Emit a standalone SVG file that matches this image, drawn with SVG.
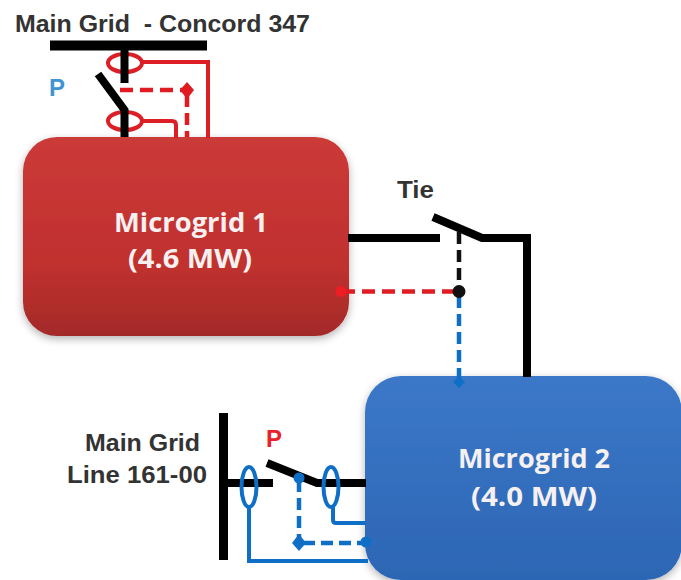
<svg xmlns="http://www.w3.org/2000/svg" width="681" height="580" viewBox="0 0 681 580">
<defs>
<linearGradient id="r" x1="0" y1="0" x2="0" y2="1"><stop offset="0" stop-color="#cb3a38"/><stop offset="0.65" stop-color="#c0302e"/><stop offset="1" stop-color="#a32b29"/></linearGradient>
<linearGradient id="b" x1="0" y1="0" x2="0" y2="1"><stop offset="0" stop-color="#3c78c8"/><stop offset="1" stop-color="#2c66b4"/></linearGradient>
<filter id="s" x="-10%" y="-10%" width="120%" height="125%"><feGaussianBlur in="SourceAlpha" stdDeviation="4"/><feOffset dy="3"/><feComponentTransfer><feFuncA type="linear" slope="0.3"/></feComponentTransfer><feMerge><feMergeNode/><feMergeNode in="SourceGraphic"/></feMerge></filter>
</defs>
<style>
.k{fill:none;stroke:#000;stroke-width:8}
.kd{fill:none;stroke:#111;stroke-width:4.500;stroke-dasharray:12 6}
.r{fill:none;stroke:#dc1f26;stroke-width:4}
.rd{fill:none;stroke:#e01b22;stroke-width:4.500;stroke-dasharray:13 7}
.u{fill:none;stroke:#0f6fc6;stroke-width:4}
.ud{fill:none;stroke:#0f6fc6;stroke-width:4.500;stroke-dasharray:12 6}
.t{font-family:"Liberation Sans",Arial,sans-serif;font-weight:700;font-size:23px;fill:#333;white-space:pre}
.p{font-family:"Liberation Sans",Arial,sans-serif;font-weight:700;font-size:24px}
.n{font-family:"Open Sans","Noto Sans",sans-serif;font-weight:700;font-size:27px;fill:#f6f0f0;text-anchor:middle}
</style>
<rect width="681" height="580" fill="#fff"/>
<g id="microgrid-1">
<rect x="23" y="137" width="326" height="199" rx="34" fill="url(#r)" filter="url(#s)"/>
<text class="n" x="191" y="232" textLength="154" lengthAdjust="spacingAndGlyphs">Microgrid 1</text>
<text class="n" x="190" y="268" textLength="124" lengthAdjust="spacingAndGlyphs">(4.6 MW)</text>
</g>
<g id="microgrid-2">
<rect x="365" y="376" width="317" height="204" rx="36" fill="url(#b)" filter="url(#s)"/>
<text class="n" x="534" y="468" textLength="152" lengthAdjust="spacingAndGlyphs">Microgrid 2</text>
<text class="n" x="534" y="506" textLength="126" lengthAdjust="spacingAndGlyphs">(4.0 MW)</text>
</g>
<g id="connectors">
<ellipse class="r" cx="125" cy="63" rx="17" ry="9"/>
<ellipse class="r" cx="125" cy="121" rx="17" ry="9"/>
<path class="r" d="M142 62H208V138M142 121H172Q176 121 176 125V138"/>
<path d="M50 45.500H207" fill="none" stroke="#000" stroke-width="10"/>
<path class="k" d="M124.500 48V83M98 74L124.500 110V137"/>
<path class="rd" d="M120 90H183"/>
<path class="rd" d="M187 95V137" style="stroke-dasharray:12 6"/>
<path d="M187 82L194 90L187 99L180 90Z" fill="#e01b22"/>
<path class="k" d="M348 238H440M433 217L482 238H527V377"/>
<path class="kd" d="M459 232V288"/>
<path class="rd" d="M342 291.500H455"/>
<circle cx="341" cy="291.500" r="5.500" fill="#ee1c25"/>
<path class="ud" d="M459 296V380"/>
<circle cx="459" cy="291.500" r="6.500" fill="#111"/>
<path d="M459 376L465 382L459 388L453 382Z" fill="#0f6fc6"/>
<path class="u" d="M249 507V561H368M333 507V520Q333 523 336 523H366"/>
<path d="M223.500 413V560" fill="none" stroke="#000" stroke-width="9"/>
<path class="k" d="M224 483H273M267 463L317 483H366"/>
<ellipse class="u" cx="249" cy="487" rx="7.500" ry="20"/>
<ellipse class="u" cx="331" cy="487" rx="7.500" ry="20"/>
<path class="ud" d="M299 480V540M303 543H364"/>
<circle cx="299" cy="478" r="5.500" fill="#0f6fc6"/>
<path d="M299 534L306 543L299 551L292 543Z" fill="#0f6fc6"/>
<circle cx="366" cy="542" r="5.500" fill="#0f6fc6"/>
</g>
<g id="labels">
<text class="t" x="15" y="32" textLength="295" lengthAdjust="spacingAndGlyphs">Main Grid  - Concord 347</text>
<text class="p" x="49" y="96" fill="#3f94d2">P</text>
<text class="t" x="397" y="198" textLength="37" lengthAdjust="spacingAndGlyphs">Tie</text>
<text class="t" x="85" y="451" textLength="115" lengthAdjust="spacingAndGlyphs">Main Grid</text>
<text class="t" x="67" y="483" textLength="140" lengthAdjust="spacingAndGlyphs">Line 161-00</text>
<text class="p" x="266" y="447" fill="#e8212b">P</text>
</g>
</svg>
